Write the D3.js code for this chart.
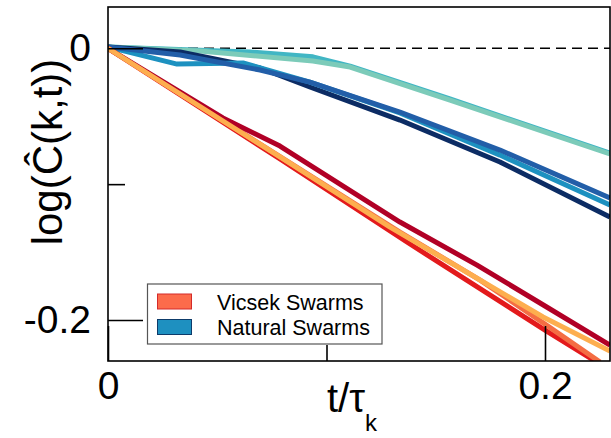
<!DOCTYPE html>
<html><head><meta charset="utf-8">
<script src="https://cdn.jsdelivr.net/npm/d3@7"></script>
<style>
html,body{margin:0;padding:0;background:#fff;}
svg{display:block;font-family:"Liberation Sans",Arial,Helvetica,sans-serif;}
</style></head>
<body>
<svg id="chart" width="611" height="438"></svg>
<script>
// ---- data ----
const xMajorTicks = [0, 0.2];
const xMajorLabels = ["0", "0.2"];
const xMinorTicks = [0.1];
const yMajorTicks = [0, -0.2];
const yMajorLabels = ["0", "-0.2"];
const yMinorTicks = [-0.1];
const legendLabels = ["Vicsek Swarms", "Natural Swarms"];

// Natural swarms
const tealT  = [0, 0.0421, 0.0938, 0.1108, 0.1565, 0.2297];
const tealV  = [0.001, -0.002, -0.0094, -0.0138, -0.0381, -0.0778];
const cyanT  = [0, 0.065, 0.0938, 0.1108, 0.1565, 0.2297];
const cyanV  = [0.001, -0.0027, -0.0063, -0.0131, -0.0373, -0.0771];
const navyT  = [0, 0.033, 0.0696, 0.0924, 0.1336, 0.1794, 0.2297];
const navyV  = [0.001, -0.0027, -0.0145, -0.0285, -0.0528, -0.0837, -0.1242];
const blueT  = [0, 0.033, 0.0696, 0.0924, 0.1336, 0.1794, 0.2297];
const blueV  = [0.001, -0.0049, -0.016, -0.0249, -0.0469, -0.0749, -0.1102];
const midT   = [0, 0.0316, 0.0618, 0.0924, 0.1336, 0.1794, 0.2297];
const midV   = [0.001, -0.0116, -0.0108, -0.0249, -0.0476, -0.0786, -0.1154];
// Vicsek swarms
const redT    = [0, 0.0787, 0.1368, 0.2, 0.2252];
const redV    = [0, -0.0815, -0.1426, -0.2074, -0.2325];
const coralT  = [0, 0.1336, 0.1703, 0.2, 0.2252];
const coralV  = [0, -0.1353, -0.1706, -0.203, -0.231];
const crimT   = [0, 0.0526, 0.0787, 0.1336, 0.1689, 0.2, 0.2297];
const crimV   = [0, -0.0513, -0.072, -0.1279, -0.1596, -0.1897, -0.2185];
const orangeT = [0, 0.0787, 0.1291, 0.1991, 0.2297];
const orangeV = [0, -0.08, -0.1316, -0.1978, -0.2229];

const series = [
  {t: cyanT, v: cyanV, color: "#41b6c4"},
  {t: tealT, v: tealV, color: "#7ccbb9"},
  {t: navyT, v: navyV, color: "#0c2c64"},
  {t: midT, v: midV, color: "#1d91c0"},
  {t: blueT, v: blueV, color: "#225ea8"},
  {t: redT, v: redV, color: "#e31a1c"},
  {t: coralT, v: coralV, color: "#f46d43"},
  {t: crimT, v: crimV, color: "#b10026"},
  {t: orangeT, v: orangeV, color: "#fdae4f"}
];

// ---- layout ----
const L = 108, R = 610, T = 7, B = 361;
const x = d3.scaleLinear().domain([0, 0.2]).range([L, 545]);
const y = d3.scaleLinear().domain([0, -0.2]).range([48.3, 320]);

const svg = d3.select("#chart");
svg.append("defs").append("clipPath").attr("id", "clip")
  .append("rect").attr("x", L).attr("y", T).attr("width", R - L).attr("height", B - T);

// dashed zero line
svg.append("line")
  .attr("x1", L).attr("x2", R).attr("y1", y(0)).attr("y2", y(0))
  .attr("stroke", "#000").attr("stroke-width", 1.6).attr("stroke-dasharray", "10,6");

const line = d3.line().x(d => x(d[0])).y(d => y(d[1]));
const g = svg.append("g").attr("clip-path", "url(#clip)");
series.forEach(s => {
  g.append("path")
    .attr("d", line(s.t.map((t, i) => [t, s.v[i]])))
    .attr("fill", "none").attr("stroke", s.color)
    .attr("stroke-width", 5).attr("stroke-linejoin", "round");
});

// frame
svg.append("rect").attr("x", L).attr("y", T).attr("width", R - L).attr("height", B - T)
  .attr("fill", "none").attr("stroke", "#000").attr("stroke-width", 1.6);

function styleAxis(sel) {
  sel.select(".domain").remove();
  sel.selectAll("line").attr("stroke", "#000").attr("stroke-width", 1.6);
  sel.selectAll("text").attr("fill", "#000").style("font-size", "39px")
    .style("font-family", '"Liberation Sans",Arial,Helvetica,sans-serif');
}

// x axis
svg.append("g").attr("transform", `translate(0,${B})`)
  .call(d3.axisBottom(x).tickValues(xMajorTicks).tickSizeInner(-35).tickSizeOuter(0)
    .tickPadding(10).tickFormat((d, i) => xMajorLabels[i]))
  .call(styleAxis);
svg.append("g").attr("transform", `translate(0,${B})`)
  .call(d3.axisBottom(x).tickValues(xMinorTicks).tickSizeInner(-16).tickSizeOuter(0).tickFormat(""))
  .call(styleAxis);

// y axis
svg.append("g").attr("transform", `translate(${L},0)`)
  .call(d3.axisLeft(y).tickValues(yMajorTicks).tickSizeInner(-35).tickSizeOuter(0)
    .tickPadding(17).tickFormat((d, i) => yMajorLabels[i]))
  .call(styleAxis);
svg.append("g").attr("transform", `translate(${L},0)`)
  .call(d3.axisLeft(y).tickValues(yMinorTicks).tickSizeInner(-17).tickSizeOuter(0).tickFormat(""))
  .call(styleAxis);

// axis titles
const xt = svg.append("text").attr("x", 327).attr("y", 412)
  .style("font-size", "40px").attr("fill", "#000");
xt.append("tspan").text("t/τ");
xt.append("tspan").attr("dy", 19).style("font-size", "24px").text("k");

svg.append("text")
  .attr("transform", "translate(62,152) rotate(-90)")
  .attr("text-anchor", "middle").style("font-size", "42px").attr("fill", "#000")
  .text("log(Ĉ(k,t))");

// legend
const lg = svg.append("g");
lg.append("rect").attr("x", 147.5).attr("y", 284).attr("width", 234.5).attr("height", 60)
  .attr("fill", "#fff").attr("stroke", "#555").attr("stroke-width", 1.2);
const legendFill = ["#fc6b4b", "#1e90c0"];
const legendStroke = ["#d42a2a", "#0d3b6a"];
legendLabels.forEach((lab, i) => {
  lg.append("rect").attr("x", 157.5).attr("y", 294 + i * 25.5).attr("width", 34).attr("height", 15)
    .attr("fill", legendFill[i]).attr("stroke", legendStroke[i]).attr("stroke-width", 1);
  lg.append("text").attr("x", 217).attr("y", 309.5 + i * 25.5)
    .style("font-size", "21.5px").attr("fill", "#000").text(lab);
});
</script>
</body></html>
